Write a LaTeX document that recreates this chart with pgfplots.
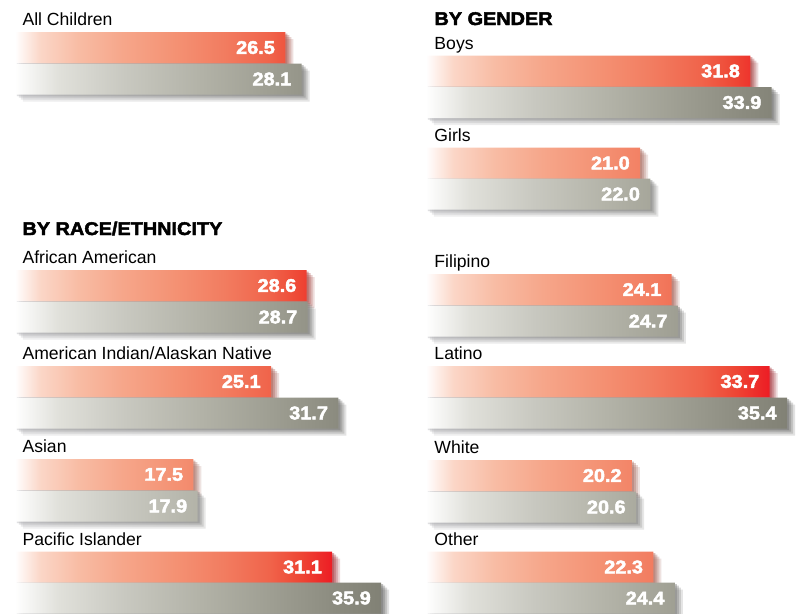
\documentclass[border=0pt]{standalone}
\usepackage{pgfplots}
\pgfplotsset{compat=1.18}
\usepackage{fontspec}
\setmainfont{Liberation Sans}
\newfontfamily\numfont[FakeStretch=1.08,BoldFeatures={FakeBold=2.5}]{Liberation Sans}

\definecolor{shad}{HTML}{50505A}
\definecolor{r1}{HTML}{FBD6C7}
\definecolor{r2}{HTML}{F8BCA4}
\definecolor{r3}{HTML}{F6A68A}
\definecolor{r4}{HTML}{F49274}
\definecolor{r5}{HTML}{F27C60}
\definecolor{r6}{HTML}{F0644B}
\definecolor{r7}{HTML}{EE4634}
\definecolor{r8}{HTML}{ED1C24}
\definecolor{g1}{HTML}{E0E0DA}
\definecolor{g2}{HTML}{C8C8C0}
\definecolor{g3}{HTML}{B3B3A8}
\definecolor{g4}{HTML}{9E9E92}
\definecolor{g5}{HTML}{8B8B7F}
\definecolor{g6}{HTML}{818175}

% bar box is mapped onto 25bp..75bp of the shading
\pgfdeclarehorizontalshading{redgrad}{100bp}{color(0bp)=(white); color(25bp)=(white);
  color(29bp)=(r1); color(35bp)=(r2); color(42bp)=(r3); color(50bp)=(r4);
  color(58bp)=(r5); color(65bp)=(r6); color(70bp)=(r7); color(75bp)=(r8); color(100bp)=(r8)}
\pgfdeclarehorizontalshading{graygrad}{100bp}{color(0bp)=(white); color(25bp)=(white);
  color(31bp)=(g1); color(40bp)=(g2); color(50bp)=(g3); color(60bp)=(g4);
  color(69bp)=(g5); color(75bp)=(g6); color(100bp)=(g6)}

\newcommand\lab{\fontsize{8.8}{10}\selectfont}
\newcommand\head{\fontsize{9.2}{10}\selectfont\numfont\bfseries}

\tikzset{
  softshadow/.style={
    preaction={fill=shad, fill opacity=0.10, transform canvas={xshift=4pt, yshift=-3.5pt}},
    preaction={fill=shad, fill opacity=0.14, transform canvas={xshift=3pt, yshift=-2.5pt}},
    preaction={fill=shad, fill opacity=0.18, transform canvas={xshift=2pt, yshift=-1.6pt}},
    preaction={fill=shad, fill opacity=0.24, transform canvas={xshift=1pt, yshift=-0.8pt}},
  },
  lbl/.style={anchor=base west, inner sep=0pt, font=\lab},
}

\pgfplotsset{
  col/.style={
    xbar, bar width=15.5pt, bar shift=0pt, y dir=reverse,
    x=5.1pt, y=0.5pt, ymin=0, ymax=614,
    hide axis, clip=false,
    point meta=x,
    nodes near coords={\pgfmathprintnumber[fixed,fixed zerofill,precision=1,assume math mode=true]{\pgfplotspointmeta}},
    every node near coord/.append style={anchor=east, inner sep=0pt, xshift=-5pt,
      font=\fontsize{9.2}{10}\selectfont\numfont\bfseries, text=white},
  },
  redbar/.style={draw=none, softshadow, shading=redgrad},
  graybar/.style={draw=none, softshadow, shading=graygrad},
}

\begin{document}
\begin{tikzpicture}
% left column
\begin{axis}[col, at={(0,0)}, anchor=north west, xmin=-1.47, xmax=39.7]
\addplot[redbar] coordinates {(26.5,47.5) (28.6,285.5) (25.1,381.5) (17.5,474.5) (31.1,567)};
\addplot[graybar] coordinates {(28.1,79) (28.7,317) (31.7,413) (17.9,506) (35.9,598)};
\node[lbl] at (axis cs:0.7,25) {All Children};
\node[lbl, font=\head] at (axis cs:0.7,235) {BY RACE/ETHNICITY};
\node[lbl] at (axis cs:0.7,263) {African American};
\node[lbl] at (axis cs:0.7,359) {American Indian/Alaskan Native};
\node[lbl] at (axis cs:0.7,452) {Asian};
\node[lbl] at (axis cs:0.7,545) {Pacific Islander};
\end{axis}
% right column
\begin{axis}[col, at={(210pt,0)}, anchor=north west, xmin=-0.58, xmax=36.38]
\addplot[redbar] coordinates {(31.8,71) (21.0,163) (24.1,289.5) (33.7,381.5) (20.2,475.5) (22.3,567)};
\addplot[graybar] coordinates {(33.9,102.5) (22.0,194) (24.7,321) (35.4,413) (20.6,507) (24.4,598)};
\node[lbl, font=\head] at (axis cs:0.8,25) {BY GENDER};
\node[lbl] at (axis cs:0.8,49) {Boys};
\node[lbl] at (axis cs:0.8,141) {Girls};
\node[lbl] at (axis cs:0.8,267) {Filipino};
\node[lbl] at (axis cs:0.8,359) {Latino};
\node[lbl] at (axis cs:0.8,453) {White};
\node[lbl] at (axis cs:0.8,545) {Other};
\end{axis}
\pgfresetboundingbox
\path (0,0) rectangle (398.5pt,-307pt);
\end{tikzpicture}
\end{document}
